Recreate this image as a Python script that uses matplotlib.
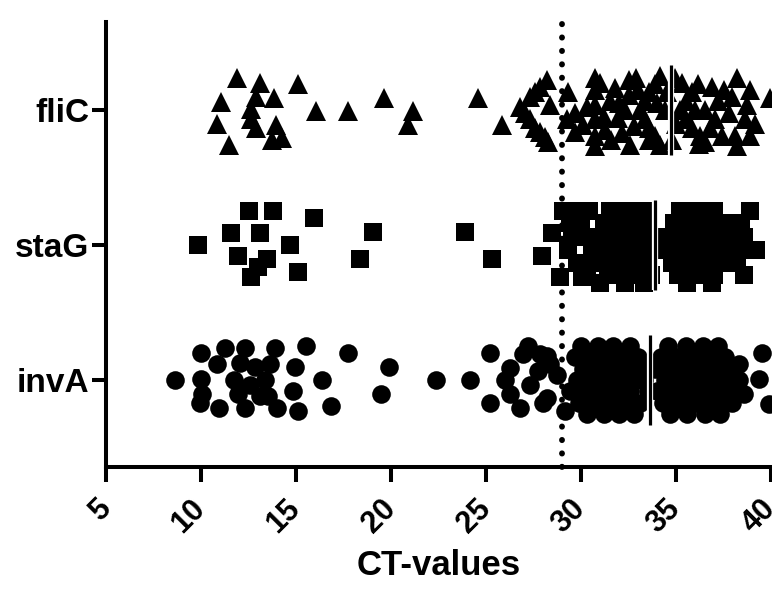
import numpy as np
import matplotlib.pyplot as plt

plt.rcParams['font.family'] = ['Liberation Sans', 'DejaVu Sans']
plt.rcParams['font.weight'] = 'bold'

genes = ['invA', 'staG', 'fliC']
markers = ['o', 's', '^']
cutoff = 29.0
medians = [33.65, 33.9, 34.75]
xticks = [5, 10, 15, 20, 25, 30, 35, 40]

# fliC: CT value and vertical jitter of every triangle
fliC_ct = [11.9, 11.05, 10.85, 11.45, 13.1, 12.9, 12.65, 12.65, 12.9, 13.85,
           13.95, 13.75, 14.25, 15.1, 16.05, 17.75, 19.65, 21.15, 20.9, 24.6, 25.85,
           26.8, 27.05, 27.3, 27.6, 27.85, 28.1, 28.25, 27.3, 27.6, 27.85,
           28.2, 28.35, 29.3, 29.25, 29.7, 29.7, 30.75, 30.75, 30.75, 30.75,
           30.75, 30.75, 30.3, 30.1, 31.5, 31.8, 31.25, 31.6, 31.95,
           32.5, 32.5, 32.3, 32.15, 32.6, 33.1, 33.35, 33.6, 33.9, 34.15,
           33.35, 33.6, 33.9, 34.15, 34.4, 32.9, 34.55,
           35.2, 35.5, 35.85, 36.15, 35.5, 35.85, 36.25, 36.55, 36.9, 36.5,
           37.05, 37.2, 37.4, 38.2, 37.95, 38.9, 38.75, 38.65, 39.15, 38.1,
           38.9, 38.2, 39.95, 34.95, 34.8,
           31.0, 31.2, 32.0, 32.8, 33.0, 34.0, 35.0, 35.3, 36.0, 36.8,
           37.5, 37.8, 33.6, 36.2]
fliC_off = [0.24, 0.06, -0.10, -0.26, 0.20, 0.10, 0.01, -0.07, -0.13, 0.09,
            -0.11, -0.22, -0.21, 0.19, -0.01, -0.01, 0.09, -0.01, -0.11, 0.09, -0.11,
            0.02, -0.02, -0.07, -0.13, -0.16, -0.20, -0.24, 0.10, 0.13, 0.17,
            0.22, 0.04, 0.13, -0.07, -0.02, -0.16, 0.24, 0.15, 0.04, -0.07,
            -0.19, -0.27, 0.02, -0.11, 0.07, 0.16, -0.15, -0.22, -0.06,
            0.22, 0.11, 0.0, -0.17, -0.26, 0.0, 0.07, 0.13, 0.19, 0.25,
            -0.07, -0.13, -0.19, -0.26, 0.0, 0.24, 0.13,
            0.0, 0.07, 0.13, 0.19, -0.07, -0.13, -0.19, -0.24, 0.17, 0.0,
            -0.07, 0.07, -0.19, 0.24, 0.10, 0.15, 0.04, -0.07, -0.10, -0.19,
            -0.19, -0.27, 0.09, 0.24, -0.22,
            0.20, -0.05, 0.05, -0.12, 0.15, 0.05, -0.10, 0.20, 0.0, -0.13,
            0.15, -0.02, -0.22, -0.25]

# staG: loose squares, then the dense block read row by row
staG_ct = [12.5, 13.8, 15.95, 11.6, 13.1, 9.85, 14.7, 11.95, 13.45, 13.0,
           12.65, 15.1, 19.05, 18.35, 23.9, 25.3, 27.95, 28.45, 29.05, 28.9, 30.05]
staG_off = [0.25, 0.25, 0.20, 0.09, 0.09, 0.0, 0.0, -0.08, -0.10, -0.16,
            -0.24, -0.20, 0.10, -0.10, 0.10, -0.10, -0.08, 0.09, 0.25, -0.24, -0.24]
staG_row_off = [0.25, 0.16, 0.06, -0.04, -0.13, -0.22, -0.28]
staG_row_ct = [
    [29.6, 30.4, 31.5, 32.0, 32.5, 33.0, 33.6, 35.2, 35.8, 36.5, 37.0, 38.9],
    [29.4, 30.0, 31.2, 31.8, 32.3, 32.8, 33.3, 34.9, 35.5, 36.2, 36.8, 37.6, 38.4],
    [29.5, 30.2, 30.9, 31.6, 32.1, 32.6, 33.2, 33.8, 34.6, 35.3, 36.0, 36.6, 37.3, 38.0, 38.6],
    [29.3, 30.6, 31.3, 31.9, 32.4, 33.0, 33.5, 34.3, 35.0, 35.7, 36.4, 37.1, 37.8, 38.5, 39.2],
    [29.8, 30.5, 31.1, 31.7, 32.2, 32.8, 33.4, 34.8, 35.4, 36.1, 36.7, 37.4, 38.2],
    [30.3, 31.4, 32.0, 32.6, 33.1, 33.7, 35.1, 35.8, 36.4, 37.0, 38.6],
    [31.0, 32.3, 33.3, 35.6, 36.9],
]

# invA: loose circles, then the dense block read row by row
invA_ct = [8.65, 10.0, 11.25, 10.85, 10.0, 10.05, 9.95, 10.95, 12.3, 12.05,
           11.75, 11.95, 12.3, 12.85, 12.6, 13.1, 13.9, 13.65, 13.35, 13.55,
           14.0, 15.55, 14.95, 16.35, 14.85, 15.1, 16.85, 17.75, 19.9, 19.45,
           22.35, 24.15,
           25.2, 25.2, 26.25, 26.0, 26.25, 26.8, 26.95, 27.2, 27.85, 28.2,
           27.75, 27.3, 28.35, 28.2, 28.0, 28.75, 29.4, 29.15,
           39.5, 39.35, 39.9, 38.3, 38.2, 37.95, 38.6]
invA_off = [0.0, 0.20, 0.24, 0.12, 0.01, -0.10, -0.17, -0.21, 0.24, 0.13,
            0.0, -0.10, -0.21, 0.10, -0.04, -0.12, 0.24, 0.12, 0.0, -0.12,
            -0.21, 0.25, 0.10, 0.0, -0.08, -0.23, -0.19, 0.20, 0.10, -0.10,
            0.0, 0.0,
            0.20, -0.17, 0.09, 0.0, -0.10, -0.21, 0.19, 0.25, 0.19, 0.18,
            0.07, -0.04, 0.12, -0.13, -0.17, 0.04, -0.08, -0.23,
            0.20, 0.01, -0.18, 0.12, -0.07, -0.17, -0.10]
invA_row_off = [0.25, 0.17, 0.08, 0.0, -0.08, -0.17, -0.25]
invA_row_ct = [
    [30.0, 30.9, 31.7, 32.6, 34.6, 35.5, 36.4, 37.2],
    [29.7, 30.5, 31.3, 32.2, 33.0, 34.2, 35.1, 36.0, 36.8, 37.6],
    [30.1, 30.9, 31.7, 32.5, 33.4, 33.9, 34.7, 35.5, 36.3, 37.1, 37.9],
    [29.8, 30.6, 31.3, 32.1, 32.9, 33.3, 34.4, 35.1, 35.9, 36.7, 37.5, 38.3],
    [30.2, 31.0, 31.8, 32.6, 33.5, 34.0, 34.8, 35.5, 36.3, 37.1, 37.8],
    [29.9, 30.7, 31.5, 32.3, 33.1, 34.3, 35.2, 36.0, 36.8, 37.5],
    [30.3, 31.2, 32.0, 32.8, 34.7, 35.6, 36.5, 37.3],
]


def gather(ct, off, row_ct=(), row_off=()):
    xs = list(ct)
    ys = list(off)
    for r, o in zip(row_ct, row_off):
        xs += r
        ys += [o] * len(r)
    return np.array(xs), np.array(ys)


points = [gather(invA_ct, invA_off, invA_row_ct, invA_row_off),
          gather(staG_ct, staG_off, staG_row_ct, staG_row_off),
          gather(fliC_ct, fliC_off)]

fig = plt.figure(figsize=(7.72, 5.89), dpi=100)
ax = fig.add_axes([106 / 772, 1 - 467 / 589, 665 / 772, 445 / 589])

ax.axvline(cutoff, ymin=0, ymax=1.02, color='black', lw=4.2,
           linestyle=(0, (0.05, 2.25)), dash_capstyle='round',
           clip_on=False, zorder=1)

sizes = [13.4, 13.6, 13.8]
for i, (xs, ys) in enumerate(points):
    ax.plot(xs, i + ys, linestyle='none', marker=markers[i],
            markersize=sizes[i], color='black', markeredgewidth=0, zorder=2)
    ax.plot([medians[i], medians[i]], [i - 0.33, i + 0.33],
            color='white', lw=4.5, solid_capstyle='butt', zorder=3)
    ax.plot([medians[i], medians[i]], [i - 0.33, i + 0.33],
            color='black', lw=2.3, solid_capstyle='butt', zorder=4)

ax.set_xlim(5, 40)
ax.set_ylim(-0.644, 2.652)
ax.set_xticks(xticks)
ax.set_yticks(range(len(genes)))
ax.set_yticklabels(genes, fontsize=24, fontweight='bold')
ax.set_xticklabels([str(t) for t in xticks], fontsize=22, fontweight='bold',
                   rotation=45, ha='right', va='center', rotation_mode='anchor')
ax.set_xlabel('CT-values', fontsize=25, fontweight='bold', labelpad=7)

for side in ['top', 'right']:
    ax.spines[side].set_visible(False)
for side in ['left', 'bottom']:
    ax.spines[side].set_linewidth(2.9)
ax.tick_params(axis='x', width=2.9, length=11, pad=16)
ax.tick_params(axis='y', width=2.9, length=10, pad=2)

fig.savefig('out.png', dpi=100)
